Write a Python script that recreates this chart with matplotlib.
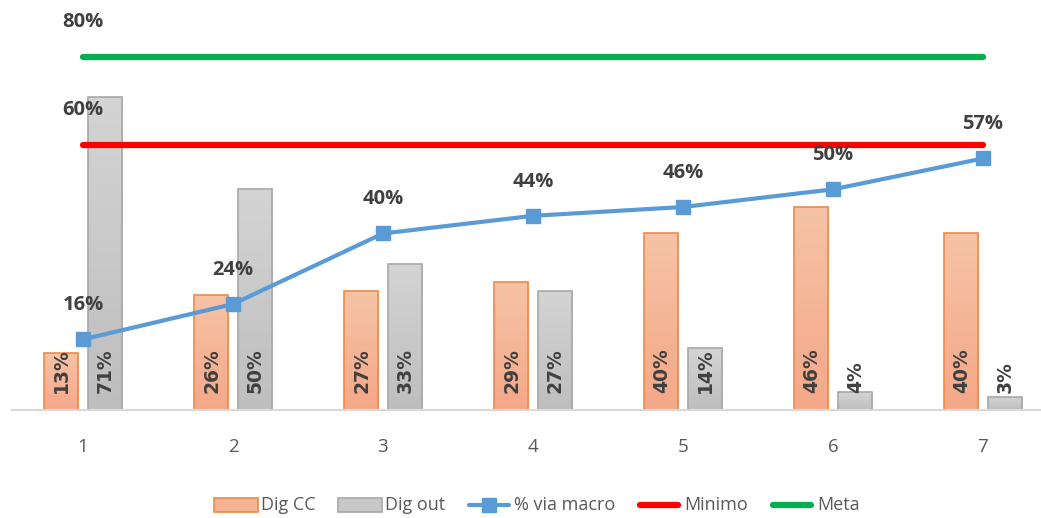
import matplotlib
matplotlib.use("Agg")

import numpy as np
import matplotlib.pyplot as plt
from matplotlib.patches import Rectangle
from matplotlib.lines import Line2D
from matplotlib.colors import LinearSegmentedColormap
from matplotlib.transforms import IdentityTransform

# ---- data ----
categories = [1, 2, 3, 4, 5, 6, 7]
dig_cc = [13, 26, 27, 29, 40, 46, 40]
dig_out = [71, 50, 33, 27, 14, 4, 3]
via_macro = [16, 24, 40, 44, 46, 50, 57]
minimo = 60
meta = 80
legend_labels = ["Dig CC", "Dig out", "% via macro", "Minimo", "Meta"]

W, H = 1041, 518
font = ["Open Sans", "DejaVu Sans"]
txt_dark = "#404040"
txt_gray = "#595959"
c_orange_edge = "#F08A48"
c_gray_edge = "#A8A8A8"
c_blue = "#5B9BD5"
c_red = "#FF0000"
c_green = "#00B050"

fig = plt.figure(figsize=(W / 100, H / 100), dpi=100)
ax = fig.add_axes([12 / W, 108 / H, 1028 / W, 406 / H])

x = np.array(categories, dtype=float)
w = 0.227
off = 0.145


def gradient_bars(xs, heights, top_col, bot_col, edge):
    bars = ax.bar(xs, heights, width=w, color="none", edgecolor=edge, linewidth=1.2, zorder=2)
    grad = np.linspace(0, 1, 64).reshape(-1, 1)
    cmap = LinearSegmentedColormap.from_list("g", [bot_col, top_col])
    for b in bars:
        x0, y0 = b.get_x(), b.get_y()
        im = ax.imshow(grad, cmap=cmap, aspect="auto", origin="lower",
                       extent=[x0, x0 + b.get_width(), y0, y0 + b.get_height()], zorder=1.5)
        im.set_clip_path(b)
    return bars


gradient_bars(x - off, dig_cc, "#F6C3A6", "#F4A888", c_orange_edge)
gradient_bars(x + off, dig_out, "#D4D4D4", "#BEBEBE", c_gray_edge)

# bar labels (rotated, at the base)
for xs, vals in ((x - off, dig_cc), (x + off, dig_out)):
    for xi, v in zip(xs, vals):
        ax.annotate(f"{v}%", (xi, 0), xytext=(0.5, 12.5), textcoords="offset points",
                    rotation=90, ha="center", va="bottom", fontsize=13.5,
                    fontweight="bold", color=txt_dark, zorder=5)

# reference lines
ax.plot([x[0], x[-1]], [minimo, minimo], color=c_red, lw=4.5,
        solid_capstyle="round", zorder=3)
ax.plot([x[0], x[-1]], [meta, meta], color=c_green, lw=4.5,
        solid_capstyle="round", zorder=3)
for v in (minimo, meta):
    ax.annotate(f"{v}%", (x[0], v), xytext=(0, 25), textcoords="offset points",
                ha="center", va="center", fontsize=14.5, fontweight="bold",
                color=txt_dark, family=font)

# line
ax.plot(x, via_macro, color=c_blue, lw=3, marker="s", markersize=10, zorder=4)
for xi, v in zip(x, via_macro):
    ax.annotate(f"{v}%", (xi, v), xytext=(0, 24.5), textcoords="offset points",
                ha="center", va="center", fontsize=14.5, fontweight="bold",
                color=txt_dark, family=font)

ax.set_xlim(0.527, 7.38)
ax.set_ylim(0, 92)
ax.set_xticks(x)
ax.set_xticklabels([str(c) for c in categories], fontsize=13.5, color=txt_gray, family=font)
ax.tick_params(axis="x", length=0, pad=20)
ax.set_yticks([])
for s in ["top", "right", "left"]:
    ax.spines[s].set_visible(False)
ax.spines["bottom"].set_color("#D9D9D9")
ax.spines["bottom"].set_linewidth(1.5)


# ---- legend, laid out by hand so the spacing matches ----
def legend_handle(i, x0, yc):
    hw = 44
    if i == 0:
        fig.add_artist(Rectangle((x0, H - yc - 7), hw, 14, facecolor="#F5B595",
                                 edgecolor=c_orange_edge, lw=1.2, transform=IdentityTransform()))
    elif i == 1:
        fig.add_artist(Rectangle((x0, H - yc - 7), hw, 14, facecolor="#C8C8C8",
                                 edgecolor=c_gray_edge, lw=1.2, transform=IdentityTransform()))
    elif i == 2:
        fig.add_artist(Line2D([x0 + 2, x0 + hw - 2], [H - yc, H - yc], color=c_blue, lw=3,
                              solid_capstyle="round", transform=IdentityTransform()))
        fig.add_artist(Line2D([x0 + hw / 2], [H - yc], color=c_blue, marker="s",
                              markersize=10, transform=IdentityTransform()))
    else:
        col = c_red if i == 3 else c_green
        fig.add_artist(Line2D([x0 + 3, x0 + hw - 3], [H - yc, H - yc], color=col, lw=4.5,
                              solid_capstyle="round", transform=IdentityTransform()))
    return hw


renderer = fig.canvas.get_renderer()
leg_y = 505
texts = [fig.text(0, 1 - leg_y / H, lab, fontsize=13, color=txt_gray, family=font,
                  ha="left", va="center") for lab in legend_labels]
widths = [t.get_window_extent(renderer).width for t in texts]
gap, spacing, hw = 3, 22, 44
total = sum(hw + gap + tw for tw in widths) + spacing * (len(widths) - 1)
cur = 537 - total / 2
for i, (t, tw) in enumerate(zip(texts, widths)):
    legend_handle(i, cur, leg_y)
    cur += hw + gap
    t.set_x(cur / W)
    cur += tw + spacing

fig.savefig("out.png", dpi=100)
